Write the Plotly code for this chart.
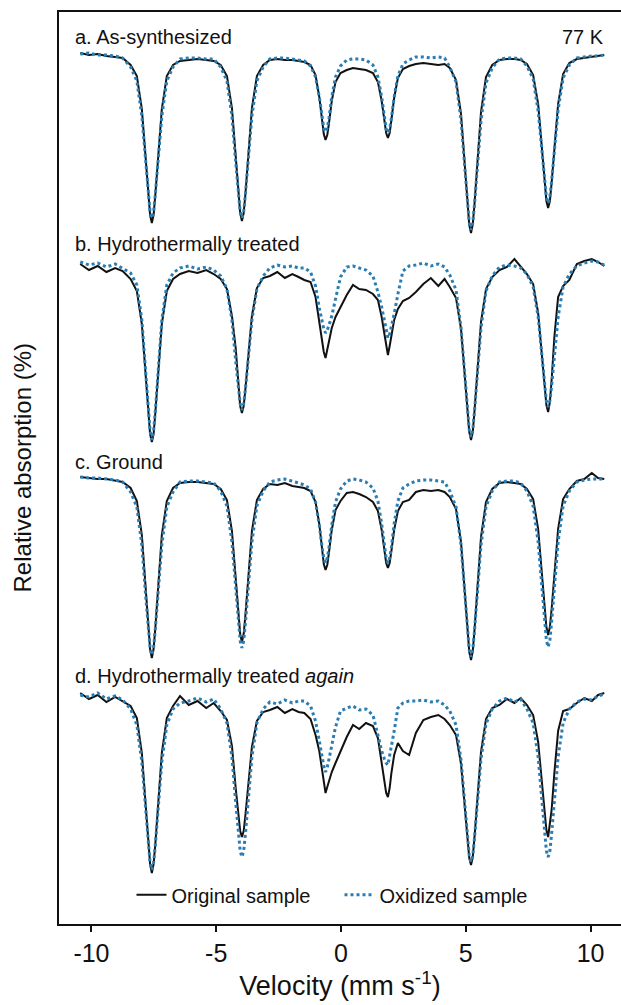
import plotly.graph_objects as go

# Velocity channels (mm/s), shared by all eight spectra
velocity = [
    -10.45, -10.1, -9.75, -9.4, -9.05, -8.75,
    -8.43, -8.18, -7.98, -7.83, -7.72, -7.65, -7.58, -7.51, -7.44, -7.33, -7.18, -6.98, -6.73,
    -6.45, -6.1, -5.75, -5.4, -5.1,
    -4.82, -4.57, -4.37, -4.22, -4.11, -4.04, -3.97, -3.90, -3.83, -3.72, -3.57, -3.37, -3.12,
    -2.85, -2.55, -2.25, -1.95, -1.7,
    -1.47, -1.22, -1.02, -0.87, -0.76, -0.69, -0.62, -0.55, -0.48, -0.37, -0.22, -0.02,
    0.23, 0.48, 0.73, 1.0,
    1.28, 1.48, 1.63, 1.74, 1.81, 1.88, 1.95, 2.02, 2.13, 2.28, 2.48, 2.73,
    3.0, 3.3, 3.6, 3.9, 4.15,
    4.36, 4.61, 4.81, 4.96, 5.07, 5.14, 5.21, 5.28, 5.35, 5.46, 5.61, 5.81, 6.06,
    6.35, 6.65, 6.95, 7.2,
    7.45, 7.70, 7.90, 8.05, 8.16, 8.23, 8.30, 8.37, 8.44, 8.55, 8.70, 8.90, 9.15,
    9.45, 9.75, 10.05, 10.3, 10.55,
]

# Relative absorption (%) of each sample, 77 K
a_original = [
    0.0, 0.2, 0.1, 0.3, 0.4, 0.5,
    1.2, 2.3, 5.6, 10.5, 14.2, 16.2, 17.0, 16.2, 14.2, 10.5, 5.6, 2.3, 1.2,
    0.8, 0.7, 0.6, 0.7, 0.8,
    1.2, 2.3, 5.5, 10.4, 14.1, 16.0, 16.8, 16.0, 14.1, 10.4, 5.5, 2.3, 1.2,
    0.7, 0.6, 0.7, 0.7, 0.8,
    0.9, 1.2, 2.2, 4.4, 6.8, 8.1, 8.7, 8.2, 7.0, 4.8, 2.9, 2.0,
    1.7, 1.5, 1.6, 1.7,
    2.0, 2.9, 4.8, 6.9, 8.0, 8.5, 8.0, 6.7, 4.5, 2.5, 1.6, 1.3,
    1.1, 1.0, 1.1, 1.2, 1.1,
    1.5, 2.7, 6.1, 11.2, 15.1, 17.2, 18.0, 17.1, 15.1, 11.1, 5.9, 2.4, 1.2,
    0.7, 0.6, 0.6, 0.7,
    1.1, 2.2, 5.1, 9.6, 13.0, 14.8, 15.5, 14.8, 13.0, 9.5, 5.1, 2.1, 1.0,
    0.6, 0.5, 0.4, 0.3, 0.2,
]
a_oxidized = [
    0.1, 0.0, 0.2, 0.2, 0.3, 0.5,
    1.4, 2.8, 6.3, 10.9, 14.1, 15.9, 16.5, 15.9, 14.1, 10.9, 6.3, 2.8, 1.4,
    0.6, 0.5, 0.5, 0.6, 0.6,
    1.4, 2.8, 6.3, 10.9, 14.1, 15.9, 16.5, 15.9, 14.1, 10.9, 6.3, 2.8, 1.4,
    0.6, 0.5, 0.5, 0.6, 0.7,
    0.8, 1.3, 2.4, 4.4, 6.5, 7.5, 7.9, 7.5, 6.5, 4.4, 2.4, 1.3,
    0.7, 0.6, 0.6, 0.7,
    1.2, 2.4, 4.4, 6.5, 7.6, 8.0, 7.6, 6.5, 4.4, 2.3, 1.1, 0.7,
    0.4, 0.4, 0.5, 0.4, 0.5,
    1.4, 2.9, 6.7, 11.7, 15.1, 17.0, 17.7, 17.0, 15.1, 11.7, 6.8, 3.0, 1.5,
    0.6, 0.5, 0.5, 0.6,
    1.3, 2.6, 5.8, 10.0, 12.8, 14.4, 15.0, 14.4, 12.8, 9.9, 5.7, 2.5, 1.2,
    0.5, 0.4, 0.3, 0.3, 0.2,
]

b_original = [
    0.2, 0.8, 0.4, 1.0, 0.6, 0.9,
    1.7, 2.9, 6.2, 11.3, 15.1, 17.2, 18.0, 17.2, 15.1, 11.3, 6.2, 2.9, 1.7,
    1.2, 0.9, 1.1, 0.8, 1.2,
    1.7, 2.7, 5.4, 8.6, 12.8, 14.4, 15.1, 14.4, 12.7, 9.5, 5.4, 2.6, 1.6,
    1.4, 1.0, 1.6, 1.2, 1.5,
    1.8, 2.0, 3.5, 6.0, 8.0, 9.0, 9.6, 8.8, 7.8, 6.6, 5.5, 4.5,
    3.3, 2.3, 2.7, 2.8,
    3.2, 3.8, 5.5, 7.2, 8.5, 9.3, 8.4, 7.2, 5.8, 4.7, 3.9, 3.6,
    3.0, 2.2, 1.6, 2.4, 1.7,
    2.5, 3.6, 6.7, 11.5, 15.1, 17.0, 17.8, 17.0, 14.9, 11.1, 6.0, 2.7, 1.5,
    0.8, 0.5, -0.3, 0.4,
    1.2, 2.2, 5.1, 9.3, 12.6, 14.3, 15.0, 14.0, 11.8, 7.5, 3.5, 2.4, 1.8,
    0.2, -0.1, -0.3, 0.0, 0.4,
]
b_oxidized = [
    0.0, 0.3, 0.1, 0.5, 0.2, 0.6,
    1.1, 2.3, 5.8, 10.9, 14.9, 16.9, 17.8, 16.9, 14.9, 10.9, 5.8, 2.3, 1.1,
    0.6, 0.4, 0.7, 0.5, 0.8,
    1.4, 2.7, 5.8, 9.9, 12.7, 14.2, 14.8, 14.2, 12.7, 9.9, 5.8, 2.7, 1.4,
    0.6, 0.3, 0.5, 0.4, 0.6,
    0.6, 1.0, 2.4, 4.6, 6.0, 6.7, 7.1, 6.8, 6.3, 5.4, 3.7, 1.5,
    0.5, 0.4, 0.6, 0.8,
    1.4, 3.0, 4.5, 6.0, 7.0, 7.6, 7.2, 6.5, 5.2, 3.2, 0.9, 0.4,
    0.3, 0.1, 0.4, 0.2, 0.5,
    1.3, 2.8, 6.6, 11.5, 14.9, 16.8, 17.5, 16.8, 14.9, 11.5, 6.6, 2.9, 1.4,
    0.5, 0.3, 0.4, 0.6,
    1.2, 2.5, 5.5, 9.6, 12.4, 13.9, 14.5, 13.9, 12.4, 9.6, 5.5, 2.5, 1.2,
    0.4, 0.1, -0.1, 0.0, 0.3,
]

c_original = [
    0.0, 0.1, 0.2, 0.2, 0.4, 0.5,
    1.1, 2.4, 5.8, 11.1, 15.1, 17.2, 18.1, 17.2, 15.1, 11.1, 5.8, 2.4, 1.1,
    0.6, 0.5, 0.5, 0.6, 0.7,
    1.2, 2.3, 5.4, 10.2, 13.8, 15.7, 16.5, 15.7, 13.8, 10.2, 5.4, 2.3, 1.2,
    0.7, 0.8, 0.6, 0.9, 1.0,
    1.1, 1.4, 2.5, 4.7, 7.3, 8.7, 9.3, 8.8, 7.5, 5.3, 3.3, 2.4,
    1.6, 1.5, 1.7, 2.0,
    2.5, 3.4, 5.3, 7.4, 8.6, 9.1, 8.6, 7.4, 5.3, 3.4, 2.5, 2.3,
    1.5, 1.3, 1.4, 1.3, 1.5,
    2.0, 3.2, 6.5, 11.6, 15.4, 17.5, 18.3, 17.4, 15.3, 11.3, 6.0, 2.5, 1.2,
    0.6, 0.5, 0.6, 0.7,
    1.2, 2.2, 5.2, 9.8, 13.2, 15.0, 15.8, 15.0, 13.2, 9.8, 5.2, 2.2, 1.2,
    0.4, 0.2, -0.4, 0.1, 0.2,
]
c_oxidized = [
    0.0, 0.1, 0.1, 0.2, 0.3, 0.5,
    1.5, 3.0, 6.8, 11.8, 15.2, 17.1, 17.8, 17.1, 15.2, 11.8, 6.8, 3.0, 1.5,
    0.5, 0.4, 0.4, 0.5, 0.6,
    1.4, 2.9, 6.5, 11.3, 14.6, 16.4, 17.1, 16.4, 14.6, 11.3, 6.5, 2.9, 1.4,
    0.5, 0.3, 0.2, 0.4, 0.6,
    0.8, 1.2, 2.5, 4.8, 7.0, 8.1, 8.6, 8.1, 7.0, 4.8, 2.5, 1.2,
    0.4, 0.2, 0.3, 0.5,
    1.1, 2.4, 4.7, 7.0, 8.1, 8.6, 8.1, 7.0, 4.7, 2.4, 1.1, 0.7,
    0.4, 0.3, 0.3, 0.4, 0.5,
    1.4, 3.0, 6.8, 11.9, 15.4, 17.3, 18.0, 17.3, 15.4, 11.9, 6.8, 3.0, 1.4,
    0.5, 0.4, 0.4, 0.6,
    1.4, 2.9, 6.5, 11.3, 14.5, 16.3, 17.0, 16.3, 14.5, 11.3, 6.5, 2.9, 1.4,
    0.5, 0.3, 0.2, 0.2, 0.2,
]

d_original = [
    0.0, 0.6, 0.2, 0.9, 0.4, 0.8,
    1.3, 2.5, 6.0, 11.1, 15.1, 17.1, 18.0, 17.1, 15.1, 11.1, 6.0, 2.5, 1.3,
    0.3, 1.2, 0.8, 1.5, 1.0,
    1.8, 2.7, 5.3, 9.5, 12.2, 13.8, 14.4, 13.8, 12.2, 9.2, 5.4, 2.8, 1.9,
    1.7, 1.4, 2.0, 1.6, 1.9,
    2.0, 2.6, 4.2, 5.8, 7.6, 8.8, 10.0, 9.4, 8.7, 7.9, 7.0, 5.8,
    4.4, 3.2, 3.6, 3.0,
    3.3, 4.5, 6.9, 8.8, 10.0, 10.4, 9.5, 8.0, 6.2, 5.0, 5.8, 6.2,
    4.0, 2.7, 2.4, 2.2, 2.6,
    3.2, 4.2, 7.1, 11.4, 14.8, 16.5, 17.2, 16.4, 14.4, 10.7, 5.9, 2.6, 1.5,
    1.2, 0.6, 1.0, 0.5,
    1.2, 2.2, 4.9, 9.0, 12.1, 13.7, 14.4, 13.0, 11.7, 8.0, 3.8, 1.8, 1.6,
    1.0, 0.5, 0.8, 0.2, 0.0,
]
d_oxidized = [
    0.2, 0.4, 0.0, 0.6, 0.3, 0.7,
    1.6, 3.2, 6.9, 11.8, 15.2, 17.0, 17.7, 17.0, 15.2, 11.8, 6.9, 3.2, 1.6,
    1.0, 0.8, 0.5, 0.9, 0.6,
    1.6, 3.0, 6.4, 10.9, 14.1, 15.8, 16.4, 15.8, 14.1, 10.9, 6.4, 3.0, 1.6,
    0.9, 1.1, 0.7, 1.0, 0.8,
    0.8, 1.3, 2.8, 4.8, 6.4, 7.3, 7.9, 7.4, 6.6, 5.2, 3.4, 1.8,
    1.5, 1.3, 1.7, 1.6,
    2.2, 4.2, 5.8, 6.6, 7.0, 7.2, 6.3, 5.2, 3.8, 1.5, 1.0, 0.8,
    0.8, 0.7, 0.9, 0.8, 1.2,
    1.8, 3.2, 6.7, 11.3, 14.5, 16.3, 16.9, 16.3, 14.5, 11.3, 6.6, 3.1, 1.6,
    0.8, 0.5, 0.9, 0.6,
    1.6, 3.0, 6.4, 10.9, 14.1, 15.8, 16.4, 15.8, 14.1, 10.9, 6.4, 3.0, 1.6,
    0.9, 0.6, 0.7, 0.3, 0.1,
]

panel_labels = [
    "a. As-synthesized",
    "b. Hydrothermally treated",
    "c. Ground",
    "d. Hydrothermally treated <i>again</i>",
]
original_series = [a_original, b_original, c_original, d_original]
oxidized_series = [a_oxidized, b_oxidized, c_oxidized, d_oxidized]
series_names = ["Original sample", "Oxidized sample"]
x_ticks = [-10, -5, 0, 5, 10]

# vertical stacking of the four spectra (baseline of each panel)
panel_offsets = [-4.1, -25.0, -46.5, -68.1]
label_y = [-2.5, -23.2, -45.0, -66.4]

BLACK = "#111111"
BLUE = "#2a7db3"
FONT = "Arial, Liberation Sans, sans-serif"

fig = go.Figure()
for i, (orig, oxid) in enumerate(zip(original_series, oxidized_series)):
    off = panel_offsets[i]
    fig.add_trace(go.Scatter(
        x=velocity, y=[off - v for v in orig], mode="lines",
        line=dict(color=BLACK, width=2),
        name=series_names[0], legendgroup="orig", showlegend=(i == 0),
    ))
    fig.add_trace(go.Scatter(
        x=velocity, y=[off - v for v in oxid], mode="lines",
        line=dict(color=BLUE, width=3, dash="dot"),
        name=series_names[1], legendgroup="oxid", showlegend=(i == 0),
    ))

for i, text in enumerate(panel_labels):
    fig.add_annotation(
        x=-10.75, y=label_y[i], xref="x", yref="y", text=text,
        showarrow=False, xanchor="left", yanchor="middle",
        font=dict(size=20, color=BLACK, family=FONT),
    )
fig.add_annotation(
    x=10.6, y=label_y[0], xref="x", yref="y", text="77 K",
    showarrow=False, xanchor="right", yanchor="middle",
    font=dict(size=20, color=BLACK, family=FONT),
)
fig.add_annotation(
    x=-0.065, y=0.5, xref="paper", yref="paper", text="Relative absorption (%)",
    textangle=-90, showarrow=False, xanchor="center", yanchor="middle",
    font=dict(size=24, color=BLACK, family=FONT),
)

fig.update_xaxes(
    range=[-11.30, 11.22], tickvals=x_ticks, ticktext=[str(t) for t in x_ticks],
    ticks="outside", ticklen=6, tickwidth=2, tickcolor=BLACK,
    showline=True, linewidth=2, linecolor=BLACK, mirror=True,
    showgrid=False, zeroline=False,
    tickfont=dict(size=25, color=BLACK, family=FONT),
    title=dict(text="Velocity (mm s<sup>-1</sup>)", standoff=5,
               font=dict(size=27, color=BLACK, family=FONT)),
)
fig.update_yaxes(
    range=[-91.2, 0], showticklabels=False, ticks="",
    showline=True, linewidth=2, linecolor=BLACK,
    showgrid=False, zeroline=False,
)

fig.update_layout(
    width=621, height=1005,
    margin=dict(l=59, r=0, t=12, b=81),
    paper_bgcolor="white", plot_bgcolor="white",
    font=dict(family=FONT, color=BLACK),
    legend=dict(
        orientation="h", x=0.129, y=0.032, xanchor="left", yanchor="middle",
        font=dict(size=20, color=BLACK, family=FONT),
        bgcolor="rgba(0,0,0,0)", entrywidth=163, entrywidthmode="pixels",
    ),
)

fig.write_html("out.html")
